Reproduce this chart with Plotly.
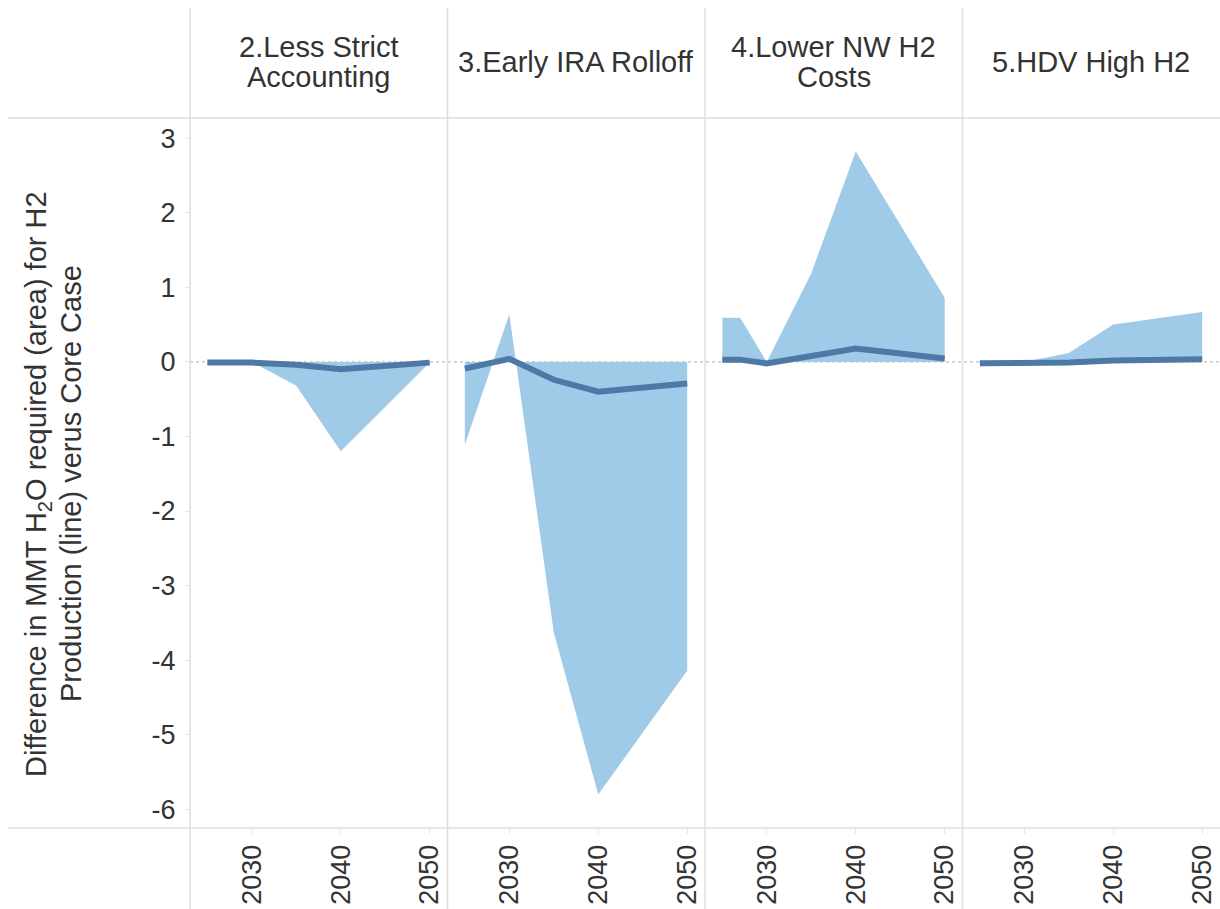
import plotly.graph_objects as go

# ---------------- data ----------------
panels = ["2.Less Strict Accounting", "3.Early IRA Rolloff", "4.Lower NW H2 Costs", "5.HDV High H2"]
header_lines = [["2.Less Strict", "Accounting"], ["3.Early IRA Rolloff"], ["4.Lower NW H2", "Costs"], ["5.HDV High H2"]]

years_less_strict = [2025, 2030, 2035, 2040, 2050]
water_less_strict = [0.0, 0.0, -0.32, -1.20, -0.01]
h2_less_strict = [-0.01, -0.01, -0.04, -0.10, -0.01]

years_early_ira = [2025, 2030, 2035, 2040, 2050]
water_early_ira = [-1.11, 0.64, -3.63, -5.80, -4.14]
h2_early_ira = [-0.09, 0.04, -0.24, -0.40, -0.29]

years_lower_nw = [2025, 2027, 2030, 2035, 2040, 2050]
water_lower_nw = [0.59, 0.59, 0.0, 1.19, 2.82, 0.86]
h2_lower_nw = [0.03, 0.03, -0.02, 0.07, 0.18, 0.045]

years_hdv = [2025, 2030, 2035, 2040, 2050]
water_hdv = [0.0, 0.0, 0.12, 0.50, 0.67]
h2_hdv = [-0.02, -0.02, -0.01, 0.02, 0.035]

x_tick_vals = [2030, 2040, 2050]
y_tick_vals = [-6, -5, -4, -3, -2, -1, 0, 1, 2, 3]
y_tick_text = ["-6", "-5", "-4", "-3", "-2", "-1", "0", "1", "2", "3"]
y_title_lines = ["Difference in MMT H<sub>2</sub>O required (area) for H2",
                 "Production (line) verus Core Case"]

series = [
    (years_less_strict, water_less_strict, h2_less_strict),
    (years_early_ira, water_early_ira, h2_early_ira),
    (years_lower_nw, water_lower_nw, h2_lower_nw),
    (years_hdv, water_hdv, h2_hdv),
]

# ---------------- style ----------------
AREA = "#a0cbe8"
LINE = "#4e79a7"
GRID = "#dedede"
TXT = "#333333"
FONT = "Liberation Sans, Arial, sans-serif"

W, H = 1220, 909
L, R, T, B = 190, 0, 118, 81
PW = W - L - R
PH = H - T - B

def px_x(p):
    return (p - L) / PW

def px_y(p):
    return (H - B - p) / PH

fig = go.Figure()
n = len(panels)
for i, (yrs, water, h2) in enumerate(series):
    xa = "x" if i == 0 else f"x{i+1}"
    fig.add_trace(go.Scatter(x=yrs, y=water, mode="lines", fill="tozeroy",
                             fillcolor=AREA, line=dict(width=0, color=AREA),
                             xaxis=xa, yaxis="y", showlegend=False, name=panels[i]))
    fig.add_trace(go.Scatter(x=yrs, y=h2, mode="lines",
                             line=dict(width=6, color=LINE),
                             xaxis=xa, yaxis="y", showlegend=False, name=panels[i]))

layout = dict(
    width=W, height=H, autosize=False,
    margin=dict(l=L, r=R, t=T, b=B, pad=0),
    paper_bgcolor="white", plot_bgcolor="white",
    font=dict(family=FONT, color=TXT),
    showlegend=False,
)
xr = [2023.05, 2052.0]
for i in range(n):
    key = "xaxis" if i == 0 else f"xaxis{i+1}"
    layout[key] = dict(domain=[i / n, (i + 1) / n], range=xr, anchor="y",
                       tickvals=x_tick_vals, tickangle=-90,
                       tickfont=dict(size=27, color=TXT, family=FONT),
                       ticks="outside", ticklen=5, tickcolor="#e6e6e6",
                       showgrid=False, zeroline=False, showline=False,
                       fixedrange=True)
layout["yaxis"] = dict(range=[-6.25, 3.27], tickvals=y_tick_vals, ticktext=y_tick_text,
                       tickfont=dict(size=27, color=TXT, family=FONT),
                       ticks="outside", ticklen=4, tickcolor="#e6e6e6",
                       showgrid=False, zeroline=False, showline=False,
                       ticklabelstandoff=4, fixedrange=True)
fig.update_layout(**layout)

shapes = []
# vertical dividers
for i in range(n):
    shapes.append(dict(type="line", xref="paper", yref="paper",
                       x0=i / n, x1=i / n, y0=px_y(H), y1=px_y(8),
                       line=dict(color=GRID, width=1.5)))
# horizontal lines at header bottom and plot bottom
for py in (T, H - B):
    shapes.append(dict(type="line", xref="paper", yref="paper",
                       x0=px_x(8), x1=1, y0=px_y(py), y1=px_y(py),
                       line=dict(color=GRID, width=1.5)))
# dotted zero line
shapes.append(dict(type="line", xref="paper", yref="y", x0=0, x1=1, y0=0, y1=0,
                   line=dict(color="#bdbdbd", width=1.2, dash="dot"), layer="below"))

annotations = []
centers = [[62], [47, 77]]
for i, lines in enumerate(header_lines):
    ys = centers[0] if len(lines) == 1 else centers[1]
    for txt, py in zip(lines, ys):
        annotations.append(dict(text=txt, xref="paper", yref="paper",
                                x=(i + 0.5) / n, y=px_y(py), xanchor="center", yanchor="middle",
                                showarrow=False, font=dict(size=29, color=TXT, family=FONT)))
for txt, pxx in zip(y_title_lines, (38, 71)):
    annotations.append(dict(text=txt, xref="paper", yref="paper", x=px_x(pxx), y=px_y(484),
                            xanchor="center", yanchor="middle", textangle=-90, showarrow=False,
                            font=dict(size=29, color=TXT, family=FONT)))

fig.update_layout(shapes=shapes, annotations=annotations)

fig.write_html("out.html", config={"displayModeBar": False},
               post_script="document.body.style.margin='0';")
